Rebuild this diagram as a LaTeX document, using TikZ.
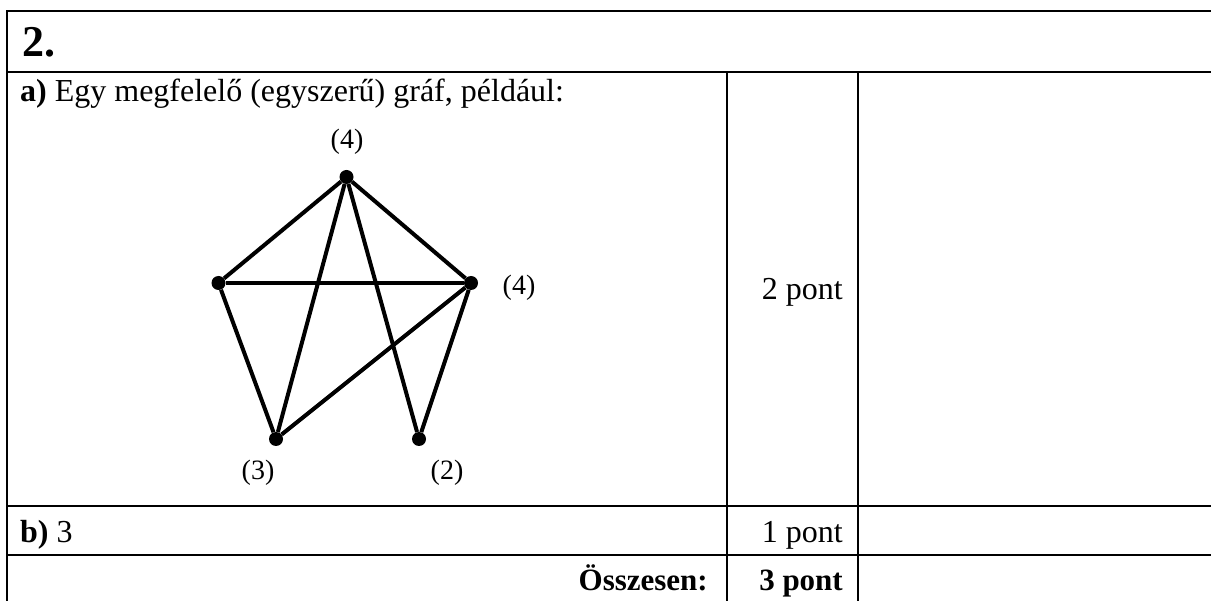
\documentclass[tikz,border=0pt]{standalone}
\usepackage{fontspec}
\setmainfont{Liberation Serif}
\begin{document}
\begin{tikzpicture}[x=1pt,y=-1pt,
  tbl/.style={line width=2pt, line cap=rect},
  body/.style={font=\fontsize{32}{38}\selectfont, inner sep=0pt},
  vtx/.style={circle, fill=black, inner sep=0pt, minimum size=14pt},
  edge/.style={line width=4pt},
  deg/.style={font=\fontsize{28}{32}\selectfont, inner sep=0pt}]
\useasboundingbox (0,0) rectangle (1211,601);
% table
\draw[tbl] (7,11) -- (1212,11);
\draw[tbl] (7,11) -- (7,602);
\draw[tbl] (7,72) -- (1212,72);
\draw[tbl] (7,506) -- (1212,506);
\draw[tbl] (7,555) -- (1212,555);
\draw[tbl] (727,72) -- (727,602);
\draw[tbl] (858,72) -- (858,602);
% texts
\node[inner sep=0pt, anchor=base west, font=\fontsize{44}{50}\selectfont\bfseries] (title) at (22,57) {2.};
\node[body, anchor=base west] (qa) at (20,102) {\textbf{a)} Egy megfelelő (egyszerű) gráf, például:};
\node[body, anchor=base east] (pa) at (843,300) {2 pont};
\node[body, anchor=base west] (qb) at (20,543) {\textbf{b)} 3};
\node[body, anchor=base east] (pb) at (843,543) {1 pont};
\node[body, anchor=base east, font=\fontsize{31}{38}\selectfont] (tot) at (708,590) {\textbf{Összesen:}};
\node[body, anchor=base east, font=\fontsize{31}{38}\selectfont] (pt) at (843,590) {\textbf{3 pont}};
% graph
\node[vtx] (t) at (346.5,177) {};
\node[vtx] (l) at (218.5,283) {};
\node[vtx] (r) at (471,283) {};
\node[vtx] (bl) at (276,439) {};
\node[vtx] (br) at (419,439) {};
\draw[edge] (t) -- (l);
\draw[edge] (t) -- (r);
\draw[edge] (t) -- (bl);
\draw[edge] (t) -- (br);
\draw[edge] (l) -- (r);
\draw[edge] (l) -- (bl);
\draw[edge] (r) -- (bl);
\draw[edge] (r) -- (br);
\node[deg] (dt) at (347,142) {(4)};
\node[deg] (dr) at (519,288) {(4)};
\node[deg] (dbl) at (258,473) {(3)};
\node[deg] (dbr) at (447,473) {(2)};
\end{tikzpicture}
\end{document}
